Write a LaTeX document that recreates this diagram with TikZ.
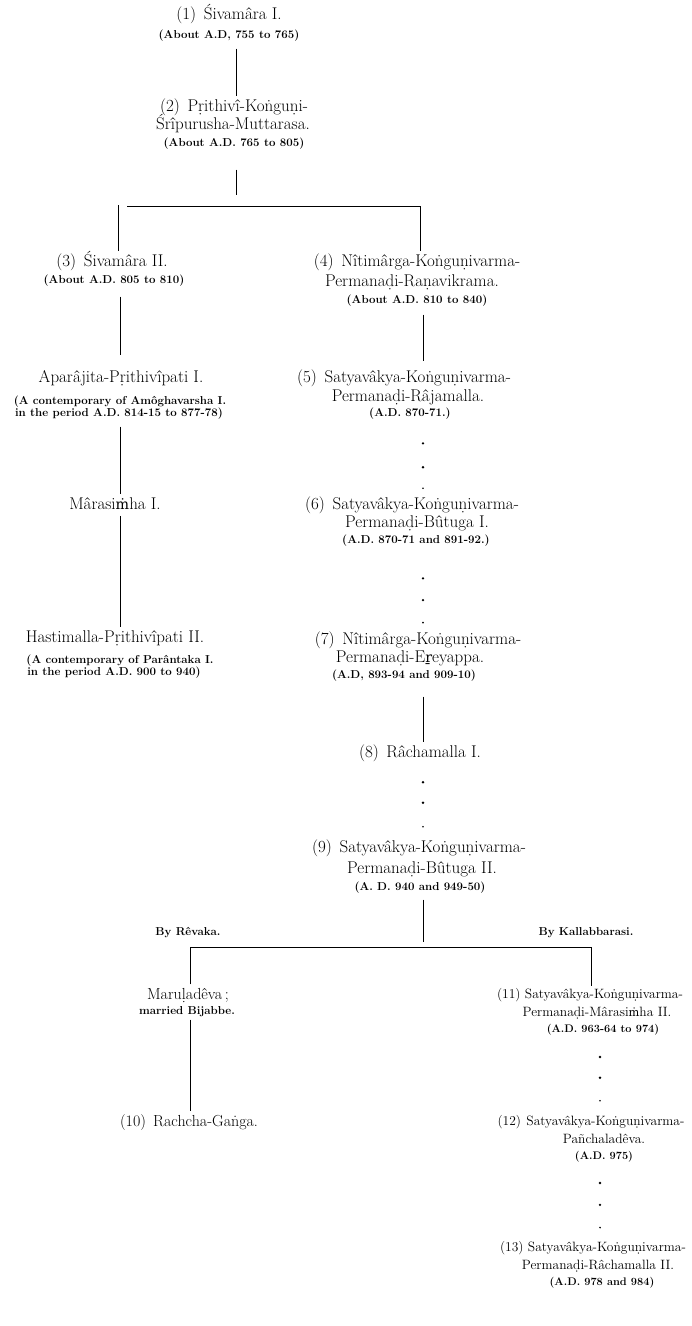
\documentclass[tikz,border=0pt]{standalone}
\usepackage{fontspec}
\newfontfamily\dvs{DejaVu Serif}[Scale=0.84]
\begin{document}
\begin{tikzpicture}[x=1pt,y=-1pt,
  nm/.style={font=\fontsize{17}{19}\selectfont, text height=12pt, text depth=3.5pt, inner xsep=0pt, inner ysep=3pt},
  nmb/.style={font=\fontsize{16}{18}\selectfont, text height=11.5pt, text depth=3.3pt, inner xsep=0pt, inner ysep=3pt},
  nms/.style={font=\fontsize{13.5}{15}\selectfont, text height=9.5pt, text depth=3pt, inner xsep=0pt, inner ysep=3pt},
  sm/.style={font=\bfseries\fontsize{11.5}{12}\selectfont, text height=8.5pt, text depth=2.5pt, inner xsep=0pt, inner ysep=3pt},
  sms/.style={font=\bfseries\fontsize{11}{12}\selectfont, text height=8pt, text depth=2.5pt, inner xsep=0pt, inner ysep=3pt},
  ln/.style={line width=0.7pt},
  dotmark/.style={circle, fill, inner sep=0pt, minimum size=2.6pt},
  dotsm/.style={circle, fill, inner sep=0pt, minimum size=1.8pt},
]
\useasboundingbox (0,0) rectangle (692,1326);
% column coordinates
\coordinate (colT) at (236,0);
\coordinate (colL) at (120,0);
\coordinate (colC) at (423,0);
\coordinate (colBL) at (190,0);
\coordinate (colDR) at (600,0);

% (1), (2)
\node[nm] (p1a) at (229,15) {(1)\hspace{0.45em}Śivamâra I.};
\node[sm] (p1b) at (229,35) {(About A.D, 755 to 765)};
\node[nm] (p2a) at (234,107) {(2)\hspace{0.45em}Pṛithivî-Koṅguṇi-};
\node[nm] (p2b) at (233,125) {Śrîpurusha-Muttarasa.};
\node[sm] (p2c) at (234,143) {(About A.D. 765 to 805)};

% left branch
\node[nm] (p3a) at (112,262) {(3)\hspace{0.45em}Śivamâra II.};
\node[sm] (p3b) at (114,280) {(About A.D. 805 to 810)};
\node[nm] (pAa) at (121,378) {Aparâjita-Pṛithivîpati I.};
\node[sm] (pAb) at (120,401) {(A contemporary of Amôghavarsha I.};
\node[sm] (pAc) at (119,413) {in the period A.D. 814-15 to 877-78)};
\node[nm] (pMa) at (115,505) {Mârasi{\dvs ṁ}ha I.};
\node[nm] (pHa) at (115,638) {Hastimalla-Pṛithivîpati II.};
\node[sm] (pHb) at (120,660) {(A contemporary of Parântaka I.};
\node[sm] (pHc) at (114,672) {in the period A.D. 900 to 940)};

% centre branch
\node[nm] (p4a) at (417,262) {(4)\hspace{0.45em}Nîtimârga-Koṅguṇivarma-};
\node[nm] (p4b) at (412,282) {Permanaḍi-Raṇavikrama.};
\node[sm] (p4c) at (417,300) {(About A.D. 810 to 840)};
\node[nm] (p5a) at (404,378) {(5)\hspace{0.45em}Satyavâkya-Koṅguṇivarma-};
\node[nm] (p5b) at (408,397) {Permanaḍi-Râjamalla.};
\node[sm] (p5c) at (410,413) {(A.D. 870-71.)};
\node[nm] (p6a) at (412,505) {(6)\hspace{0.45em}Satyavâkya-Koṅguṇivarma-};
\node[nm] (p6b) at (417,523) {Permanaḍi-Bûtuga I.};
\node[sm] (p6c) at (416,540) {(A.D. 870-71 and 891-92.)};
\node[nm] (p7a) at (418,640) {(7)\hspace{0.45em}Nîtimârga-Koṅguṇivarma-};
\node[nm] (p7b) at (410,658) {Permanaḍi-E{\dvs ṟ}eyappa.};
\node[sm] (p7c) at (404,675) {(A.D, 893-94 and 909-10)};
\node[nm] (p8) at (420,753) {(8)\hspace{0.45em}Râchamalla I.};
\node[nm] (p9a) at (419,848) {(9)\hspace{0.45em}Satyavâkya-Koṅguṇivarma-};
\node[nm] (p9b) at (422,869) {Permanaḍi-Bûtuga II.};
\node[sm] (p9c) at (420,887) {(A. D. 940 and 949-50)};

% mothers
\node[sm] (mR) at (188,932) {By Rêvaka.};
\node[sm] (mK) at (586,932) {By Kallabbarasi.};

% bottom left
\node[nmb] (pMr) at (188,995) {Maruḷadêva\,;};
\node[sm] (pMrb) at (187,1011) {married Bijabbe.};
\node[nmb] (p10) at (189,1122) {(10)\hspace{0.45em}Rachcha-Gaṅga.};

% bottom right
\node[nms] (p11a) at (590,995) {(11) Satyavâkya-Koṅguṇivarma-};
\node[nms] (p11b) at (597,1013) {Permanaḍi-Mârasi{\dvs ṁ}ha II.};
\node[sms] (p11c) at (603,1030) {(A.D. 963-64 to 974)};
\node[nms] (p12a) at (591,1122) {(12)\hspace{0.4em}Satyavâkya-Koṅguṇivarma-};
\node[nms] (p12b) at (604,1140) {Pañchaladêva.};
\node[sms] (p12c) at (604,1157) {(A.D. 975)};
\node[nms] (p13a) at (593,1248) {(13) Satyavâkya-Koṅguṇivarma-};
\node[nms] (p13b) at (598,1266) {Permanaḍi-Râchamalla II.};
\node[sms] (p13c) at (602,1283) {(A.D. 978 and 984)};

% connectors
\draw[ln, shorten <=5pt] (p1b.south -| colT) -- (p2a.north -| colT);
\coordinate (j2) at (236,195);
\draw[ln] ([yshift=-18pt]p2c.south -| j2) -- (j2);
\coordinate (b1L) at (118,205);
\coordinate (b1a) at (127,206);
\coordinate (b1R) at (420,206);
\draw[ln] (b1a) -- (b1R) -- (p4a.north -| b1R);
\draw[ln] (b1L) -- (p3a.north -| b1L);
\draw[ln, shorten <=8pt, shorten >=12pt] (p3b.south -| colL) -- (pAa.north -| colL);
\draw[ln, shorten <=5pt] (pAc.south -| colL) -- (pMa.north -| colL);
\draw[ln] (pMa.south -| colL) -- (pHa.north -| colL);
\draw[ln, shorten <=6pt, shorten >=6pt] (p4c.south -| colC) -- (p5a.north -| colC);
\path (p5c.south -| colC) -- (p6a.north -| colC)
  node[dotmark,pos=.30]{} node[dotmark,pos=.63]{} node[dotsm,pos=.92]{};
\path (p6c.south -| colC) -- (p7a.north -| colC)
  node[dotmark,pos=.37]{} node[dotmark,pos=.64]{} node[dotsm,pos=.92]{};
\draw[ln, shorten <=13pt] (p7c.south -| colC) -- (p8.north -| colC);
\path (p8.south -| colC) -- (p9a.north -| colC)
  node[dotmark,pos=.25]{} node[dotmark,pos=.53]{} node[dotsm,pos=.86]{};
\coordinate (j9) at (423,942);
\draw[ln, shorten <=4pt] (p9c.south -| j9) -- (j9);
\coordinate (b2L) at (190,947);
\coordinate (b2R) at (591,947);
\draw[ln] (pMr.north -| b2L) -- (b2L) -- (b2R) -- (p11a.north -| b2R);
\draw[ln] (pMrb.south -| colBL) -- (p10.north -| colBL);
\path (p11c.south -| colDR) -- (p12a.north -| colDR)
  node[dotmark,pos=.25]{} node[dotmark,pos=.53]{} node[dotsm,pos=.84]{};
\path (p12c.south -| colDR) -- (p13a.north -| colDR)
  node[dotmark,pos=.24]{} node[dotmark,pos=.54]{} node[dotsm,pos=.85]{};
\end{tikzpicture}
\end{document}
